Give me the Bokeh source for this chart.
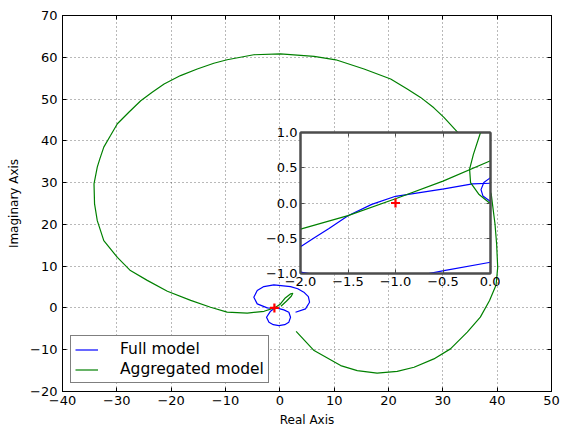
from bokeh.plotting import figure
from bokeh.models import Range1d, FixedTicker, LinearAxis, Legend, LegendItem, Column
from bokeh.embed import file_html
from bokeh.resources import INLINE

FONT = "DejaVu Sans"

# ---------------- data ----------------
# Full model, main view
full_re = [2.89, 4.73, 5.47, 5.25, 4.42, 3.3, 1.97, -1.10, -2.94, -4.16, -4.79, -4.16, -2.32, -1.0,
           -1.71, -2.45, -2.0, -1.2, -0.18, 0.9, 1.66, 1.97, 1.66, 0.74, -0.3]
full_im = [-1.03, -0.22, 1.37, 2.7, 3.77, 4.6, 5.12, 5.52, 5.12, 4.16, 2.56, 0.98, 0.02, -0.1,
           -0.78, -2.22, -3.4, -4.0, -4.21, -4.0, -3.4, -2.22, -1.03, -0.46, -0.1]

# Aggregated model, main view
agg_re = [3.0, 6.3, 11.2, 14.25, 17.9, 21.6, 24.7, 28.35, 31.4, 34.5, 36.9, 38.6, 39.8, 40.1,
          39.9, 39.6, 38.9, 36.4, 32.7, 30.2, 28.35, 25.9, 23.45, 20.4, 15.5, 10.3, 6.3, 0.1,
          -4.8, -9.7, -12.15, -15.2, -18.28, -21.3, -23.49, -25.6, -27.79, -29.9, -31.16,
          -32.4, -33.13, -33.6, -34.2, -34.1, -33.6, -32.4, -29.9, -27.5, -24.4, -20.7, -16.4,
          -12.75, -9.7, -6.0, -2.9, -1.0, 0.0, 1.0, 2.0, 2.4, 2.1, 1.2, 0.2]
agg_im = [-5.6, -10.2, -13.8, -15.0, -15.6, -15.2, -14.2, -12.2, -9.8, -5.8, -2.2, 1.8, 5.5, 9.7,
          15.3, 20.1, 27.3, 35.0, 42.1, 45.6, 47.9, 50.4, 52.4, 54.8, 57.2, 59.4, 60.2, 60.8,
          60.6, 59.4, 58.57, 57.2, 55.62, 53.6, 51.63, 49.6, 46.84, 44.1, 41.26,
          38.5, 35.69, 33.7, 29.7, 24.9, 20.9, 16.1, 12.1, 8.95, 6.6, 4.0, 1.8,
          0.17, -1.0, -1.26, -0.8, 0.0, 0.8, 2.4, 3.4, 3.5, 2.8, 1.6, 0.4]

# Inset (zoom around the critical point)
zoom_full_a_re = [-2.0, -1.85, -1.7, -1.5, -1.25, -1.0, -0.49, -0.19, 0.0]
zoom_full_a_im = [-0.62, -0.49, -0.36, -0.18, -0.02, 0.095, 0.20, 0.27, 0.28]
zoom_full_b_re = [0.0, -0.07, -0.10, -0.08, 0.0]
zoom_full_b_im = [0.36, 0.29, 0.19, 0.10, 0.02]
zoom_full_c_re = [-2.0, -1.88, -1.25, -0.65, -0.49, 0.0]
zoom_full_c_im = [-0.98, -1.01, -1.1, -1.0, -0.96, -0.84]
zoom_agg_a_re = [-2.0, -1.5, -1.0, -0.5, 0.0]
zoom_agg_a_im = [-0.37, -0.18, 0.06, 0.31, 0.6]
zoom_agg_b_re = [0.0, -0.12, -0.21, -0.22, -0.18, -0.105]
zoom_agg_b_im = [-0.01, 0.12, 0.29, 0.48, 0.69, 1.0]

critical_re = [-1.0]
critical_im = [0.0]

x_ticks = [-40, -30, -20, -10, 0, 10, 20, 30, 40, 50]
y_ticks = [-20, -10, 0, 10, 20, 30, 40, 50, 60, 70]
inset_x_ticks = [-2.0, -1.5, -1.0, -0.5, 0.0]
inset_y_ticks = [-1.0, -0.5, 0.0, 0.5, 1.0]

BLUE = "#0000ff"
GREEN = "#008000"
RED = "#ff0000"


def lab(v, fmt):
    return fmt.format(v).replace("-", "\u2212")


def style_axis(ax, ticks, fmt, show_labels=True, color="black", width=1, standoff=5):
    ax.ticker = FixedTicker(ticks=ticks)
    ax.major_tick_in = 4
    ax.major_tick_out = 0
    ax.minor_tick_line_color = None
    ax.major_tick_line_color = color
    ax.axis_line_color = color
    ax.axis_line_width = width
    ax.major_label_standoff = standoff
    ax.major_label_text_font = FONT
    if show_labels:
        ax.major_label_overrides = {t: lab(t, fmt) for t in ticks}
        ax.major_label_text_color = "black"
        ax.major_label_text_font_size = "13px"
    else:
        ax.major_label_text_color = None
        ax.major_label_text_font_size = "1px"
        ax.major_label_standoff = 0
    ax.axis_label_text_font = FONT
    ax.axis_label_text_font_size = "12px"
    ax.axis_label_text_font_style = "normal"
    ax.axis_label_text_color = "black"


# ---------------- main figure ----------------
p = figure(width=561, height=430, x_range=Range1d(-40, 50), y_range=Range1d(-20, 70),
           output_backend="svg", toolbar_location=None,
           min_border_left=62, min_border_right=10, min_border_top=15, min_border_bottom=39,
           x_axis_label="Real Axis", y_axis_label="Imaginary Axis")
p.background_fill_color = "white"
p.border_fill_color = "white"
p.outline_line_color = "black"
p.outline_line_width = 1

style_axis(p.xaxis[0], x_ticks, "{:d}", standoff=4)
style_axis(p.yaxis[0], y_ticks, "{:d}", standoff=5)
p.xaxis[0].axis_label_standoff = 5
p.yaxis[0].axis_label_standoff = 6
ax_r = LinearAxis()
style_axis(ax_r, y_ticks, "{:d}", show_labels=False)
p.add_layout(ax_r, "right")
ax_t = LinearAxis()
style_axis(ax_t, x_ticks, "{:d}", show_labels=False)
p.add_layout(ax_t, "above")

for g in (p.xgrid[0], p.ygrid[0]):
    g.grid_line_color = "black"
    g.grid_line_alpha = 0.55
    g.grid_line_dash = "1 3"
    g.grid_line_width = 1
p.xgrid[0].ticker = FixedTicker(ticks=x_ticks)
p.ygrid[0].ticker = FixedTicker(ticks=y_ticks)

r_full = p.line(full_re, full_im, line_color=BLUE, line_width=1.2)
r_agg = p.line(agg_re, agg_im, line_color=GREEN, line_width=1.2)
p.scatter(critical_re, critical_im, marker="cross", size=9, line_color=RED, line_width=2.2)

legend = Legend(items=[LegendItem(label="Full model", renderers=[r_full]),
                       LegendItem(label="Aggregated model", renderers=[r_agg])],
                location=(8, 8))
legend.label_text_font = FONT
legend.label_text_font_size = "15.5px"
legend.label_text_color = "black"
legend.glyph_width = 23
legend.glyph_height = 17
legend.label_height = 17
legend.label_standoff = 22
legend.spacing = 2
legend.padding = 4
legend.margin = 0
legend.border_line_color = "black"
legend.border_line_width = 1
legend.background_fill_color = "white"
legend.background_fill_alpha = 1
p.add_layout(legend)

# ---------------- inset figure ----------------
# (frames in a Column are aligned, so the inset shares the main left border of 62 px)
ins = figure(width=262, height=176, x_range=Range1d(-2, 0), y_range=Range1d(-1, 1),
             output_backend="svg", toolbar_location=None,
             min_border_left=62, min_border_right=10, min_border_top=10, min_border_bottom=25)
ins.background_fill_color = "white"
ins.border_fill_alpha = 0
ins.outline_line_color = "#4d4d4d"
ins.outline_line_width = 2
style_axis(ins.xaxis[0], inset_x_ticks, "{:.1f}", color="#4d4d4d", width=2, standoff=3)
style_axis(ins.yaxis[0], inset_y_ticks, "{:.1f}", color="#4d4d4d", width=2, standoff=3)
ia_r = LinearAxis()
style_axis(ia_r, inset_y_ticks, "{:.1f}", show_labels=False, color="#4d4d4d", width=2)
ins.add_layout(ia_r, "right")
ia_t = LinearAxis()
style_axis(ia_t, inset_x_ticks, "{:.1f}", show_labels=False, color="#4d4d4d", width=2)
ins.add_layout(ia_t, "above")
for g in (ins.xgrid[0], ins.ygrid[0]):
    g.grid_line_color = "black"
    g.grid_line_alpha = 0.55
    g.grid_line_dash = "1 3"
    g.grid_line_width = 1
ins.xgrid[0].ticker = FixedTicker(ticks=inset_x_ticks)
ins.ygrid[0].ticker = FixedTicker(ticks=inset_y_ticks)

ins.line(zoom_full_a_re, zoom_full_a_im, line_color=BLUE, line_width=1.2)
ins.line(zoom_full_b_re, zoom_full_b_im, line_color=BLUE, line_width=1.2)
ins.line(zoom_full_c_re, zoom_full_c_im, line_color=BLUE, line_width=1.2)
ins.line(zoom_agg_a_re, zoom_agg_a_im, line_color=GREEN, line_width=1.2)
ins.line(zoom_agg_b_re, zoom_agg_b_im, line_color=GREEN, line_width=1.2)
ins.scatter(critical_re, critical_im, marker="cross", size=9, line_color=RED, line_width=2.2)

ins.styles = {"position": "absolute", "left": "238px", "top": "122px", "z-index": "10"}

layout = Column(children=[p, ins])
layout.styles = {"position": "relative"}

open("out.html", "w").write(file_html(layout, INLINE))
